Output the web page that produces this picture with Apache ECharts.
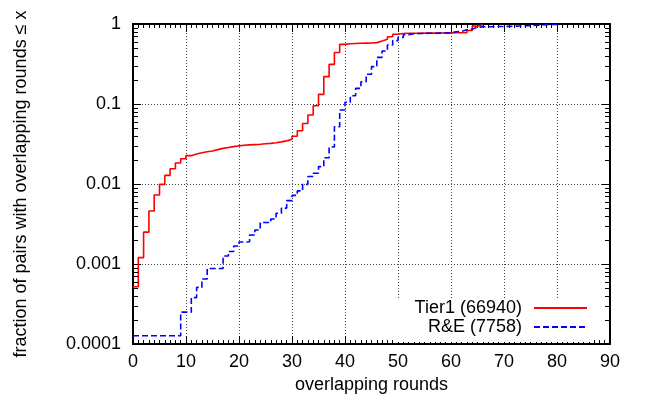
<!DOCTYPE html>
<html>
<head>
<meta charset="utf-8">
<script src="https://cdn.jsdelivr.net/npm/echarts@6/dist/echarts.min.js"></script>
<style>
html,body{margin:0;padding:0;background:#fff;}
#chart{width:649px;height:404px;}
</style>
</head>
<body>
<div id="chart"></div>
<script>
// Data (value at each round x holds on [x, x+1))
const tier1Name = 'Tier1 (66940)';
const reName = 'R&E (7758)';
const tier1Rounds = [0,1,2,3,4,5,6,7,8,9,10,11,12,13,14,15,16,17,18,19,20,21,22,23,24,25,26,27,28,29,30,31,32,33,34,35,36,37,38,39,40,41,42,43,44,45,46,47,48,49,50,51,52,53,54,55,56,57,58,59,60,61,62,63,64,65,66];
const tier1Frac = [0.00052,0.0012,0.0025,0.0046,0.0073,0.0099,0.0128,0.0155,0.0183,0.0207,
  0.0226,0.0237,0.0246,0.0253,0.0259,0.0269,0.0279,0.0286,0.0293,0.0300,
  0.0305,0.0308,0.0311,0.0314,0.0318,0.0322,0.0328,0.0336,0.0346,0.0362,
  0.0395,0.0464,0.057,0.073,0.095,0.132,0.22,0.313,0.44,0.557,
  0.567,0.571,0.574,0.577,0.58,0.585,0.613,0.643,0.694,0.743,
  0.762,0.765,0.766,0.767,0.768,0.769,0.77,0.772,0.774,0.775,
  0.777,0.778,0.78,0.83,0.94,0.98,1];
const reRounds = [0,1,2,3,4,5,6,7,8,9,10,11,12,13,14,15,16,17,18,19,20,21,22,23,24,25,26,27,28,29,30,31,32,33,34,35,36,37,38,39,40,41,42,43,44,45,46,47,48,49,50,51,52,53,54,55,56,57,58,59,60,61,62,63,64,65,66,67,68,69,70,71,72,73,74,75,76,77,78,79,80];
const reFrac = [0.000127,0.000127,0.000127,0.000127,0.000127,0.000127,0.000127,0.000127,0.000127,0.00025,
  0.00025,0.00038,0.00051,0.00065,0.00088,0.00088,0.00088,0.00126,0.00143,0.00168,
  0.00188,0.0019,0.0023,0.00266,0.0033,0.0033,0.00365,0.0043,0.005,0.0062,
  0.0072,0.0082,0.0099,0.0124,0.0136,0.0165,0.0213,0.029,0.052,0.084,
  0.105,0.127,0.157,0.19,0.235,0.293,0.383,0.46,0.546,0.62,
  0.68,0.735,0.755,0.76,0.762,0.765,0.767,0.77,0.773,0.775,
  0.8,0.81,0.845,0.86,0.91,0.92,0.925,0.928,0.93,0.932,
  0.935,0.94,0.945,0.95,0.955,0.965,0.97,0.98,0.985,0.99,1];
const xTickLabels = ['0','10','20','30','40','50','60','70','80','90'];
const yTickLabels = {'-4':'0.0001','-3':'0.001','-2':'0.01','-1':'0.1','0':'1'};
const xTitle = 'overlapping rounds';
const yTitle = 'fraction of pairs with overlapping rounds \u2264 x';

const FONT = '"Liberation Sans", Arial, Helvetica, sans-serif';

// minor log ticks (2..9 x 10^k)
const yMinor = [];
for (let k = -4; k < 0; k++) for (let m = 2; m <= 9; m++) yMinor.push([0, m * Math.pow(10, k)]);

const chart = echarts.init(document.getElementById('chart'), null, {renderer: 'canvas'});
const axisLine = {show: true, onZero: false, lineStyle: {color: '#000', width: 2}};
const gridLine = {show: true, lineStyle: {color: '#444', width: 1, type: [1, 2]}};

const option = {
  animation: false,
  backgroundColor: '#fff',
  grid: {left: 133, right: 39, top: 24, bottom: 60, containLabel: false},
  xAxis: [{
    type: 'value', min: 0, max: 90, interval: 10, position: 'bottom',
    axisLine: axisLine,
    axisTick: {show: true, inside: true, length: 8, lineStyle: {color: '#000', width: 1}},
    minorTick: {show: true, splitNumber: 10, length: 4, lineStyle: {color: '#000', width: 1}},
    splitLine: gridLine,
    axisLabel: {show: true, margin: 9, fontSize: 18, fontFamily: FONT, color: '#000',
      formatter: (v) => xTickLabels[Math.round(v / 10)]},
    name: xTitle, nameLocation: 'middle', nameGap: 30,
    nameTextStyle: {fontSize: 18, fontFamily: FONT, color: '#000'}
  }, {
    type: 'value', min: 0, max: 90, interval: 10, position: 'top',
    axisLine: axisLine,
    axisTick: {show: true, inside: true, length: 8, lineStyle: {color: '#000', width: 1}},
    minorTick: {show: true, splitNumber: 10, length: 4, lineStyle: {color: '#000', width: 1}},
    splitLine: {show: false}, axisLabel: {show: false}
  }],
  yAxis: [{
    type: 'log', logBase: 10, min: 0.0001, max: 1, interval: 1, position: 'left',
    axisLine: axisLine,
    axisTick: {show: true, inside: true, length: 8, lineStyle: {color: '#000', width: 1}},
    splitLine: gridLine,
    axisLabel: {show: true, margin: 12, fontSize: 18, fontFamily: FONT, color: '#000',
      formatter: (v) => yTickLabels[String(Math.round(Math.log10(v)))]},
    name: yTitle, nameLocation: 'middle', nameGap: 103,
    nameTextStyle: {fontSize: 18, fontFamily: FONT, color: '#000'}
  }, {
    type: 'log', logBase: 10, min: 0.0001, max: 1, interval: 1, position: 'right',
    axisLine: axisLine,
    axisTick: {show: true, inside: true, length: 8, lineStyle: {color: '#000', width: 1}},
    splitLine: {show: false}, axisLabel: {show: false}
  }],
  legend: {
    data: [tier1Name, reName],
    orient: 'vertical', align: 'right',
    right: 57, bottom: 62,
    padding: [1, 4, 6, 18],
    backgroundColor: '#fff',
    itemWidth: 53, itemHeight: 2, itemGap: 1,
    itemStyle: {opacity: 0, borderWidth: 0},
    textStyle: {fontSize: 18, fontFamily: FONT, color: '#000', lineHeight: 18, padding: [0, 7, 0, 0]}
  },
  series: [{
    name: tier1Name, type: 'line', step: 'end', symbol: 'none',
    xAxisIndex: 0, yAxisIndex: 0,
    lineStyle: {color: '#ff0000', width: 1.6},
    itemStyle: {color: '#ff0000'},
    data: tier1Rounds.map((r, i) => [r, tier1Frac[i]])
  }, {
    name: reName, type: 'line', step: 'end', symbol: 'none',
    xAxisIndex: 0, yAxisIndex: 0,
    lineStyle: {color: '#0000ff', width: 1.6, type: [6, 3]},
    itemStyle: {color: '#0000ff'},
    data: reRounds.map((r, i) => [r, reFrac[i]])
  }, {
    type: 'custom', silent: true, z: 5,
    xAxisIndex: 0, yAxisIndex: 0,
    data: yMinor,
    renderItem: function (params, api) {
      const cs = params.coordSys;
      const y = Math.round(api.coord([0, api.value(1)])[1]) + 0.5;
      return {type: 'group', children: [
        {type: 'line', shape: {x1: cs.x, y1: y, x2: cs.x + 5, y2: y}, style: {stroke: '#000', lineWidth: 1}},
        {type: 'line', shape: {x1: cs.x + cs.width - 5, y1: y, x2: cs.x + cs.width, y2: y}, style: {stroke: '#000', lineWidth: 1}}
      ]};
    }
  }]
};
chart.setOption(option);
</script>
</body>
</html>
